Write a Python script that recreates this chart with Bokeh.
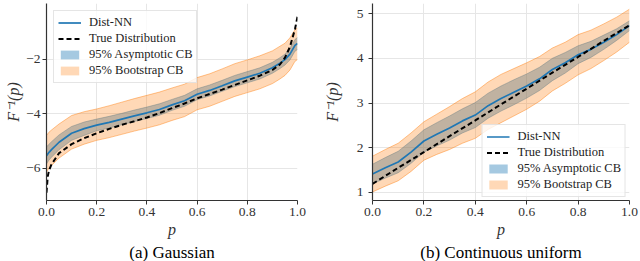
from bokeh.plotting import figure
from bokeh.layouts import row
from bokeh.models import (Legend, LegendItem, FixedTicker, Range1d, Title,
                          PrintfTickFormatter)
from bokeh.embed import file_html
from bokeh.resources import INLINE

# ---------------- data: (a) Gaussian ----------------
G_P = [0.0, 0.005, 0.01, 0.02, 0.05, 0.1, 0.15, 0.2, 0.25, 0.3, 0.35, 0.4, 0.45,
       0.5, 0.55, 0.6, 0.65, 0.7, 0.75, 0.8, 0.85, 0.9, 0.93, 0.95, 0.97, 0.99, 1.0]
G_TRUE = [-6.9, -6.3, -6.08, -5.86, -5.45, -5.12, -4.9, -4.72, -4.56, -4.41, -4.28,
          -4.14, -3.98, -3.8, -3.63, -3.44, -3.28, -3.12, -2.95, -2.78, -2.61, -2.4,
          -2.2, -1.95, -1.55, -0.9, -0.45]
G_NN = [-5.55, -5.48, -5.42, -5.32, -5.05, -4.72, -4.55, -4.42, -4.32, -4.2, -4.08,
        -3.97, -3.85, -3.68, -3.53, -3.29, -3.15, -2.98, -2.8, -2.66, -2.52, -2.32,
        -2.15, -2.02, -1.82, -1.5, -1.43]
G_ASY_LO = [-5.85, -5.77, -5.7, -5.6, -5.32, -4.98, -4.8, -4.63, -4.53, -4.41, -4.29,
            -4.18, -4.06, -3.88, -3.73, -3.49, -3.35, -3.18, -3.01, -2.87, -2.73,
            -2.52, -2.35, -2.22, -2.03, -1.71, -1.65]
G_ASY_HI = [-5.22, -5.17, -5.12, -5.03, -4.78, -4.47, -4.31, -4.2, -4.1, -3.99, -3.87,
            -3.76, -3.64, -3.48, -3.33, -3.09, -2.95, -2.78, -2.6, -2.46, -2.32, -2.12,
            -1.95, -1.82, -1.6, -1.28, -1.21]
G_BOOT_LO = [-6.15, -6.07, -6.0, -5.9, -5.63, -5.3, -5.12, -4.98, -4.88, -4.76, -4.64,
             -4.53, -4.41, -4.25, -4.11, -3.86, -3.73, -3.55, -3.37, -3.23, -3.09,
             -2.9, -2.73, -2.6, -2.4, -2.08, -2.02]
G_BOOT_HI = [-4.8, -4.74, -4.68, -4.6, -4.38, -4.07, -3.93, -3.83, -3.71, -3.58, -3.45,
             -3.33, -3.21, -3.06, -2.92, -2.68, -2.54, -2.36, -2.17, -2.03, -1.88, -1.7,
             -1.53, -1.42, -1.22, -0.92, -0.86]

# ---------------- data: (b) Continuous uniform ----------------
U_P = [0.0, 0.05, 0.1, 0.15, 0.2, 0.25, 0.3, 0.35, 0.4, 0.45, 0.5, 0.55, 0.6, 0.65,
       0.7, 0.75, 0.8, 0.85, 0.9, 0.95, 1.0]
U_NN = [1.41, 1.55, 1.68, 1.9, 2.15, 2.3, 2.44, 2.6, 2.73, 2.94, 3.1, 3.24, 3.38,
        3.54, 3.75, 3.9, 4.08, 4.2, 4.36, 4.53, 4.73]
U_ASY_LO = [1.19, 1.32, 1.44, 1.65, 1.9, 2.04, 2.17, 2.33, 2.45, 2.66, 2.82, 2.96,
            3.11, 3.28, 3.5, 3.67, 3.88, 4.02, 4.2, 4.4, 4.62]
U_ASY_HI = [1.63, 1.78, 1.92, 2.15, 2.4, 2.56, 2.71, 2.87, 3.01, 3.22, 3.38, 3.52,
            3.65, 3.8, 4.0, 4.13, 4.28, 4.38, 4.52, 4.66, 4.84]
U_BOOT_LO = [1.01, 1.14, 1.26, 1.47, 1.72, 1.85, 1.96, 2.1, 2.21, 2.41, 2.56, 2.71,
             2.86, 3.04, 3.27, 3.44, 3.63, 3.77, 3.95, 4.14, 4.36]
U_BOOT_HI = [1.81, 1.96, 2.1, 2.33, 2.58, 2.75, 2.92, 3.1, 3.25, 3.47, 3.64, 3.77,
             3.9, 4.04, 4.23, 4.36, 4.53, 4.63, 4.77, 4.92, 5.1]
U_TRUE_P = [0.0, 0.1, 0.2, 0.3, 0.4, 0.5, 0.6, 0.7, 0.8, 0.9, 1.0]
U_TRUE = [1.19, 1.55, 1.9, 2.26, 2.61, 2.97, 3.32, 3.68, 4.03, 4.39, 4.74]

X_TICKS = [0.0, 0.2, 0.4, 0.6, 0.8, 1.0]
G_Y_TICKS = [-6, -4, -2]
U_Y_TICKS = [1, 2, 3, 4, 5]
LABELS = ["Dist-NN", "True Distribution", "95% Asymptotic CB", "95% Bootstrap CB"]
CAPTIONS = ["(a) Gaussian", "(b) Continuous uniform"]

BLUE = "#1f77b4"
ORANGE = "#ff7f0e"
SERIF = "serif"


def panel(width, yr, bl, br, xs, nn, alo, ahi, blo, bhi, txs, tru, yticks,
          yoverrides, caption, legend_loc, legend_margin, ytick_standoff, ylab_standoff):
    p = figure(width=width, height=258, x_range=Range1d(0, 1), y_range=Range1d(*yr),
               output_backend="svg", toolbar_location=None, title=None,
               min_border_left=bl, min_border_right=br, min_border_top=0,
               min_border_bottom=10, outline_line_color=None,
               background_fill_color="white", border_fill_color="white")
    # bands
    p.varea(x=xs, y1=alo, y2=ahi, fill_color=BLUE, fill_alpha=0.4)
    p.line(xs, alo, line_color=BLUE, line_alpha=0.4, line_width=1)
    p.line(xs, ahi, line_color=BLUE, line_alpha=0.4, line_width=1)
    boot = p.varea(x=xs, y1=blo, y2=bhi, fill_color=ORANGE, fill_alpha=0.3)
    p.line(xs, blo, line_color=ORANGE, line_alpha=0.45, line_width=1)
    p.line(xs, bhi, line_color=ORANGE, line_alpha=0.45, line_width=1)
    nn_r = p.line(xs, nn, line_color=BLUE, line_width=1.7)
    tr_r = p.line(txs, tru, line_color="black", line_width=2, line_dash="5 3")

    # legend proxy for asymptotic CB (blue, alpha 0.4), drawn outside the view
    asy_proxy = p.varea(x=[0, 1], y1=[yr[0] - 50, yr[0] - 50],
                        y2=[yr[0] - 49, yr[0] - 49], fill_color=BLUE, fill_alpha=0.4)

    legend = Legend(items=[
        LegendItem(label=LABELS[0], renderers=[nn_r]),
        LegendItem(label=LABELS[1], renderers=[tr_r]),
        LegendItem(label=LABELS[2], renderers=[asy_proxy]),
        LegendItem(label=LABELS[3], renderers=[boot]),
    ], location=legend_loc)
    legend.label_text_font = SERIF
    legend.label_text_font_size = "12.5px"
    legend.label_text_color = "#222222"
    legend.glyph_width = 23
    legend.glyph_height = 11
    legend.label_height = 11
    legend.spacing = 1
    legend.padding = 4
    legend.margin = legend_margin
    legend.label_standoff = 8
    legend.border_line_color = "#cccccc"
    legend.border_line_width = 1
    legend.background_fill_alpha = 0.8
    p.add_layout(legend)

    # axes
    p.xaxis.ticker = FixedTicker(ticks=X_TICKS)
    p.xaxis.formatter = PrintfTickFormatter(format="%.1f")
    p.yaxis.ticker = FixedTicker(ticks=yticks)
    if yoverrides:
        p.yaxis.major_label_overrides = yoverrides
    p.xaxis.axis_label = "p"
    p.yaxis.axis_label = "F⁻¹(p)"
    for ax in (p.xaxis[0], p.yaxis[0]):
        ax.axis_line_color = "#333333"
        ax.axis_line_width = 1.2
        ax.major_tick_line_color = "#333333"
        ax.major_tick_out = 4
        ax.major_tick_in = 0
        ax.minor_tick_line_color = None
        ax.major_label_text_font = SERIF
        ax.major_label_text_font_size = "13.5px"
        ax.major_label_text_color = "#333333"
        ax.axis_label_text_font = SERIF
        ax.axis_label_text_font_style = "italic"
        ax.axis_label_text_font_size = "16px"
        ax.axis_label_text_color = "#333333"
    p.xaxis.major_label_standoff = 3
    p.xaxis.axis_label_standoff = 2
    p.yaxis.major_label_standoff = ytick_standoff
    p.yaxis.axis_label_standoff = ylab_standoff
    p.grid.grid_line_color = "#e6e6e6"
    p.grid.grid_line_width = 1

    t = Title(text=caption, align="center", text_font=SERIF, text_font_size="17px",
              text_font_style="normal", text_color="black", standoff=0, offset=0)
    p.add_layout(t, "below")
    return p


left = panel(318, (-7.185, 0.037), 41, 23, G_P, G_NN, G_ASY_LO, G_ASY_HI,
             G_BOOT_LO, G_BOOT_HI, G_P, G_TRUE, G_Y_TICKS,
             {-6: "−6", -4: "−4", -2: "−2"}, CAPTIONS[0], "top_left", 7, 2, 1)
right = panel(320, (0.819, 5.226), 49, 11, U_P, U_NN, U_ASY_LO, U_ASY_HI,
              U_BOOT_LO, U_BOOT_HI, U_TRUE_P, U_TRUE, U_Y_TICKS,
              None, CAPTIONS[1], "bottom_right", 3, 5, 13)

layout = row(left, right, margin=(3, 0, 0, 2))
open("out.html", "w").write(file_html(layout, INLINE))
